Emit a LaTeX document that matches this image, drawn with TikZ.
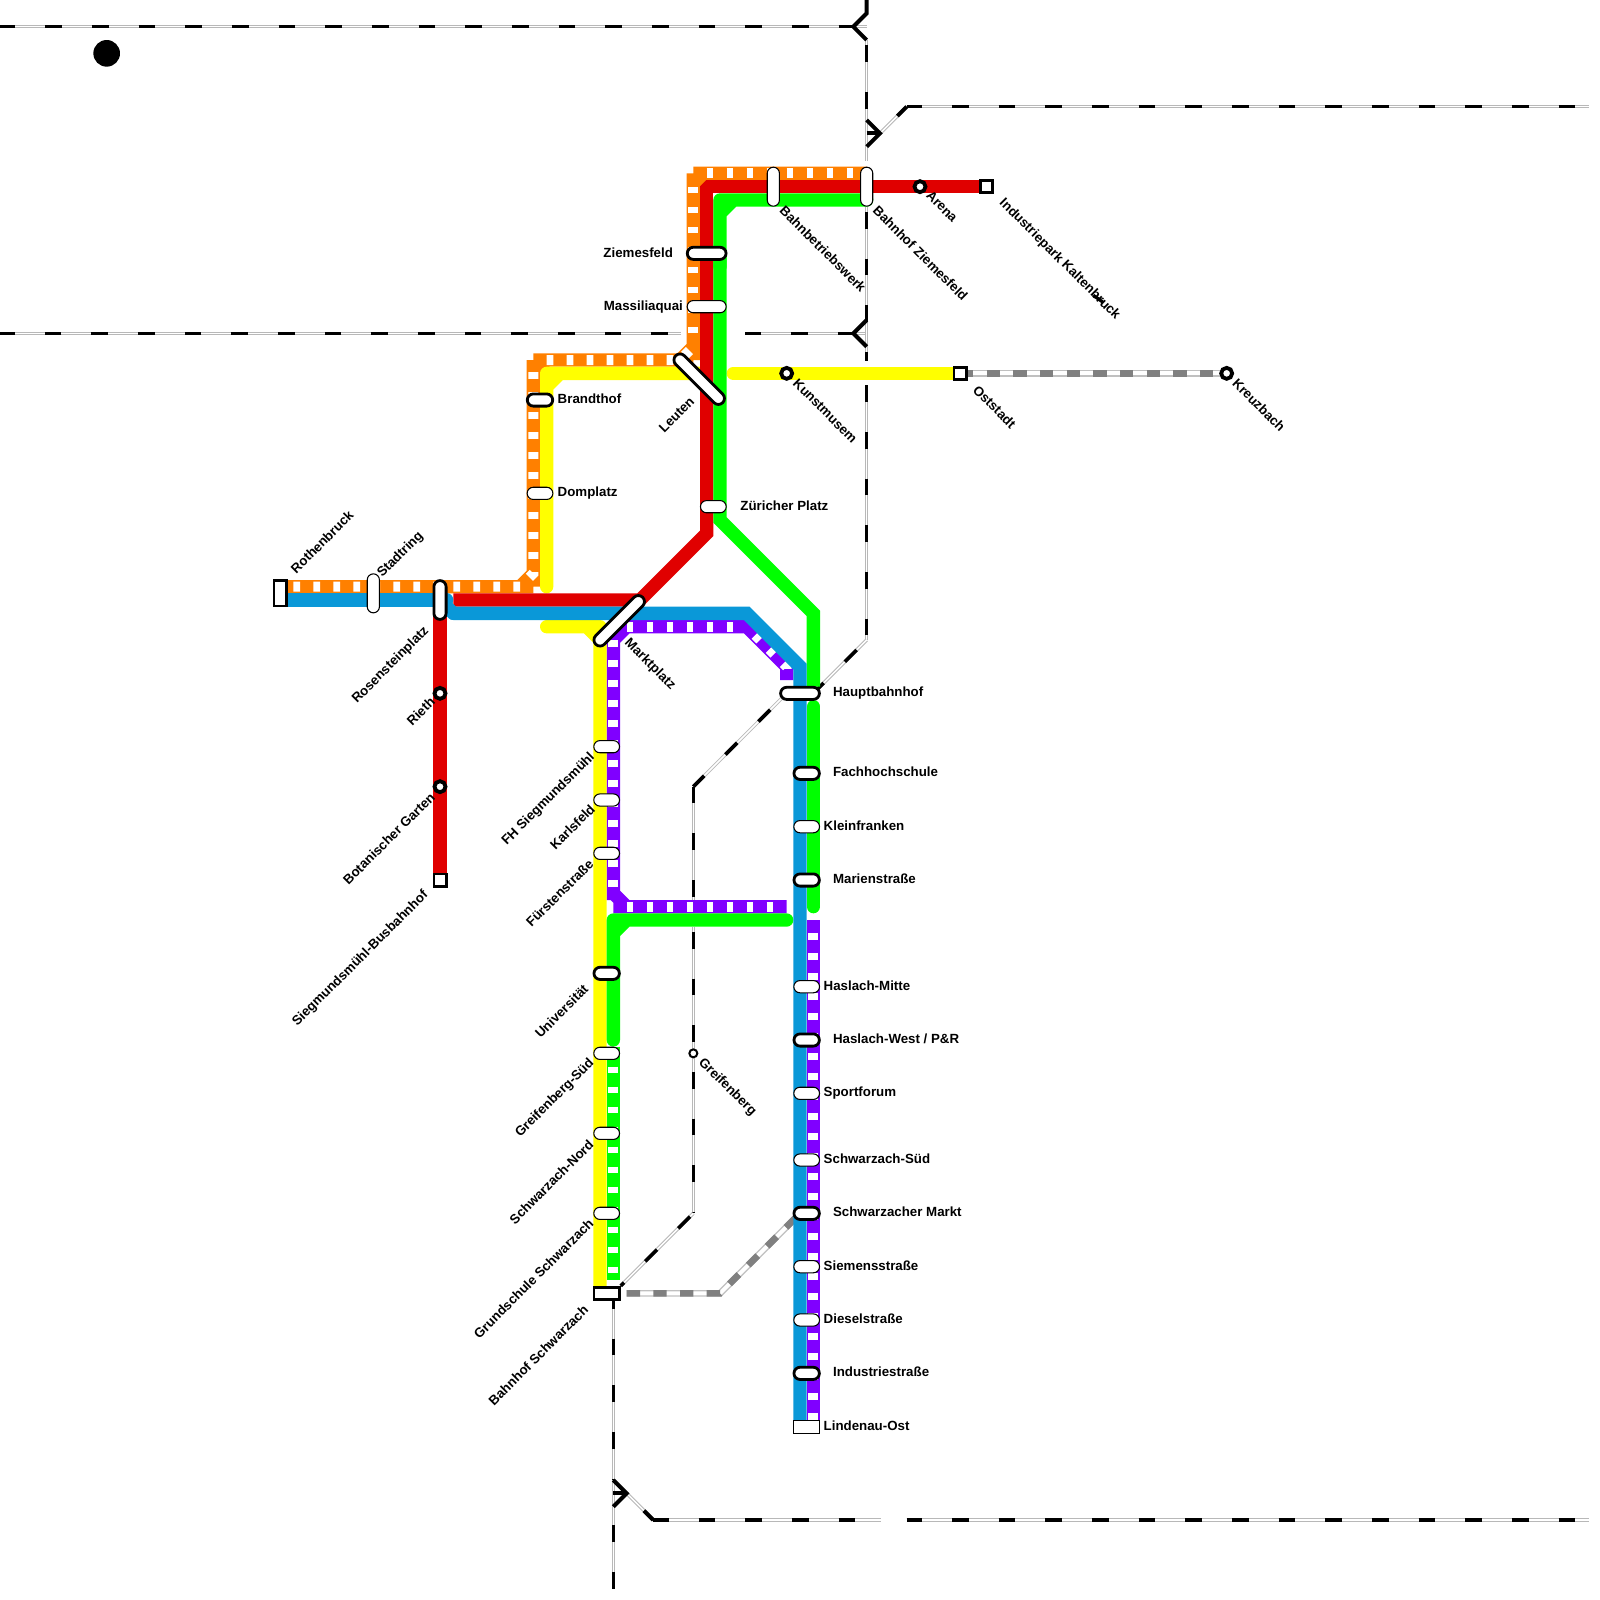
\documentclass[tikz,border=0pt]{standalone}
\usepackage{fontspec}
\setmainfont{Liberation Sans}
\usetikzlibrary{shapes.misc}
\definecolor{mOrange}{HTML}{FF8000}
\definecolor{mRed}{HTML}{E00000}
\definecolor{mGreen}{HTML}{00FF00}
\definecolor{mYellow}{HTML}{FFFF00}
\definecolor{mBlue}{HTML}{0A98D8}
\definecolor{mPurple}{HTML}{8000FF}
\definecolor{railEdge}{HTML}{B8B8B8}
\definecolor{grayEdge}{HTML}{C0C0C0}
\definecolor{grayBlock}{HTML}{808080}
\pgfdeclarelayer{lines}
\pgfsetlayers{lines,main}
\tikzset{
  metro/.style={line width=6.667pt,line cap=butt,line join=miter},
  metroR/.style={line width=6.667pt,line cap=round,line join=round},
  whiteblocks/.style={line width=5pt,white,line cap=butt,line join=miter,dash pattern=on 3.333pt off 6.667pt},
  railbase/.style={line width=1.75pt,railEdge,line join=miter},
  railcore/.style={line width=0.75pt,white,line join=miter},
  raildash/.style={line width=1.8pt,black,dash pattern=on 8.333pt off 15pt},
  railtick/.style={line width=2pt,black},
  graybase/.style={line width=3.333pt,grayEdge,line join=miter},
  graycore/.style={line width=2pt,white,line join=miter},
  graydash/.style={line width=3.333pt,grayBlock,line join=miter,dash pattern=on 6.667pt off 6.667pt},
  pill/.style={shape=rounded rectangle,rounded rectangle arc length=180,fill=white,draw=black,inner sep=0pt,minimum height=6.1pt},
  thickS/.style={pill,line width=1.4pt,minimum width=12.7pt},
  thickL/.style={pill,line width=1.4pt,minimum width=19.4pt},
  thickD/.style={pill,line width=1.4pt,minimum width=33.2pt},
  thinS/.style={pill,line width=0.53pt,minimum width=12.87pt},
  thinL/.style={pill,line width=0.53pt,minimum width=19.5pt},
  term/.style={shape=rectangle,fill=white,draw=black,line width=1.4pt,inner sep=0pt},
  termQ/.style={term,minimum width=6.1pt,minimum height=6.1pt},
  ring/.style={shape=circle,fill=white,draw=black,line width=1.9pt,inner sep=0pt,minimum size=5.5pt},
  ringS/.style={shape=circle,fill=white,draw=black,line width=1pt,inner sep=0pt,minimum size=4pt},
  lbl/.style={font=\fontsize{6.65pt}{8pt}\selectfont\bfseries,inner sep=0pt,text height=5pt,text depth=0.2pt},
  lE/.style={lbl,anchor=west},
  lW/.style={lbl,anchor=east},
  lUpS/.style={lbl,anchor=west,rotate=45},
  lUpE/.style={lbl,anchor=east,rotate=45},
  lDn/.style={lbl,anchor=west,rotate=-45},
}
\newcommand{\railrun}[2]{%
  \draw[railbase] #2;
  \draw[railcore] #2;
  \draw[raildash,dash phase=#1pt] #2;
}
\newcommand{\railplain}[1]{%
  \draw[railbase] #1;
  \draw[railcore] #1;
}
\newcommand{\grayrun}[1]{%
  \draw[graybase] #1;
  \draw[graycore] #1;
  \draw[graydash] #1;
}
\begin{document}
\begin{tikzpicture}[x=0.66667pt,y=-0.66667pt]
\useasboundingbox (0,0) rectangle (1200,1200);

% terminals
\node[term,minimum width=6.1pt,minimum height=12.7pt] (rothenbruck) at (210,445) {};
\node[termQ] (industriepark) at (740,140) {};
\node[termQ] (oststadt) at (720,280) {};
\node[termQ] (busbahnhof) at (330,660) {};
\node[term,minimum width=12.7pt,minimum height=6.1pt] (bfSchwarzach) at (455,970) {};
\node[term,line width=0.53pt,minimum width=13.1pt,minimum height=6.4pt] (lindenau) at (605,1070) {};
% rings
\node[ring] (arena) at (690,140) {};
\node[ring] (kunstmuseum) at (590,280) {};
\node[ring] (rieth) at (330,520) {};
\node[ring] (botanisch) at (330,590) {};
\node[ring] (kreuzbach) at (920,280) {};
\node[ringS] (greifenberg) at (520,790) {};
\node[shape=circle,fill=black,inner sep=0pt,minimum size=13.33pt] (dot) at (80,40) {};
% stations
\node[thickL] (ziemesfeld) at (530,190) {};
\node[thinL] (massiliaquai) at (530,230) {};
\node[thinL,rotate=90] (bahnbetrieb) at (580,140) {};
\node[thinL,rotate=90] (bfZiemesfeld) at (650,140) {};
\node[thickD,rotate=-45] (leuten) at (524.4,284.4) {};
\node[thickD,rotate=45] (marktplatz) at (464.4,465.6) {};
\node[thickS] (brandthof) at (405,300) {};
\node[thinS] (domplatz) at (405,370) {};
\node[thinS] (zuerich) at (535,380) {};
\node[thinL,rotate=90] (stadtring) at (280,445) {};
\node[thickL,rotate=90] (rosenstein) at (330,450) {};
\node[thickL] (hauptbahnhof) at (600,520) {};
\node[thickS] (fachhochschule) at (605,580) {};
\node[thinS] (kleinfranken) at (605,620) {};
\node[thickS] (marienstr) at (605,660) {};
\node[thinS] (haslachM) at (605,740) {};
\node[thickS] (haslachW) at (605,780) {};
\node[thinS] (sportforum) at (605,820) {};
\node[thinS] (schwarzachS) at (605,870) {};
\node[thickS] (schwarzachM) at (605,910) {};
\node[thinS] (siemens) at (605,950) {};
\node[thinS] (diesel) at (605,990) {};
\node[thickS] (industriestr) at (605,1030) {};
\node[thinS] (fh) at (455,560) {};
\node[thinS] (karlsfeld) at (455,600) {};
\node[thinS] (fuersten) at (455,640) {};
\node[thickS] (uni) at (455,730) {};
\node[thinS] (greifenbergS) at (455,790) {};
\node[thinS] (schwarzachN) at (455,850) {};
\node[thinS] (grundschule) at (455,910) {};
% junctions and free ends
\coordinate (w1) at (0,20);
\coordinate (j1) at (640,20);
\coordinate (w2) at (0,250);
\coordinate (j2) at (640,250);
\coordinate (j3) at (660,100);
\coordinate (e3) at (1191.5,80);
\coordinate (j4) at (470,1120);
\coordinate (e4) at (1191.5,1140);
\coordinate (k1) at (650,480);
\coordinate (k2) at (520,590);
\coordinate (k3) at (520,910);
\coordinate (k4) at (680,80);
\coordinate (k5) at (490,1140);
\coordinate (k6) at (610,520);
\coordinate (k7) at (600,910);

\begin{pgfonlayer}{lines}
% railways
\railrun{0.67}{(w1) -- (j1)}
\railplain{(j1) -- (650,20)}
\railrun{0.67}{(j2) -- (559,250)}
\railrun{16.67}{(511,250) -- (w2)}
\railplain{(j2) -- (650,250)}
\railplain{(j3) -- (k4)}
\railrun{0.67}{(k4) -- (e3)}
\railplain{(j4) -- (k5)}
\railrun{0.67}{(k5) -- (661,1140)}
\railrun{0.67}{(680,1140) -- (e4)}
\railrun{20.67}{(650,30) -- (650,90)}
\railplain{(650,90) -- (650,121)}
\railrun{20.67}{(650,155) -- (650,271)}
\railrun{0}{(650,289) -- (k1)}
\railrun{16.27}{(k1) -- (k6)}
\railrun{0.67}{(k2) -- (590,520)}
\railrun{0}{(k2) -- (520,680)}
\railrun{20.67}{(520,695) -- (k3)}
\railrun{21}{(k3) -- (bfSchwarzach.north east)}
\railrun{4}{(460,975) -- (460,1110)}
\railplain{(460,1110) -- (460,1130)}
\railrun{14}{(460,1130) -- (460,1191.5)}
% junction ticks
\draw[railtick] (650,0) -- (650,10) -- (j1) -- (650,30);
\draw[railtick] (650,240) -- (j2) -- (650,260);
\draw[railtick] (650,90) -- (j3) -- (650,110);
\draw[railtick] (650,100) -- (j3);
\draw[railtick] (673,87) -- (k4);
\draw[railtick] (460,1110) -- (j4) -- (460,1130);
\draw[railtick] (460,1120) -- (j4);
\draw[railtick] (483,1133) -- (k5);
\draw[railtick,line width=1.6pt] (820,221.5) -- (827,226.5);
% gray lines
\grayrun{(oststadt.center) -- (kreuzbach.center)}
\grayrun{(470,970) -- (540,970) -- (k7)}
% orange
\draw[metro,mOrange] (rothenbruck.center|-400,440) -- (400,440)
  (400,440) -- (400,270) (400,270) -- (520,270) (520,270) -- (520,130) (520,130) -- (bfZiemesfeld.center|-650,130)
  (390,440) -- (400,430) (400,280) -- (410,270) (510,270) -- (520,260) (520,140) -- (530,130);
\draw[whiteblocks] (220,440) -- (390,440) -- (400,430) -- (400,278);
\draw[whiteblocks] (410,270) -- (510,270) -- (520,260);
\draw[whiteblocks] (520,250) -- (520,140);
\draw[whiteblocks] (530,130) -- (650,130);
% purple
\draw[metro,mPurple] (460,675) -- (460,470) (460,470) -- (560,470) -- (590,500) -- (590,510)
  (460,480) -- (470,470) (460,670) -- (470,680) (460,680) -- (590,680);
\draw[whiteblocks] (470,470) -- (552,470);
\draw[whiteblocks] (566.4,476.4) -- (590,500) -- (590,505);
\draw[whiteblocks] (460,480) -- (460,665);
\draw[whiteblocks] (470,680) -- (580,680);
\draw[metro,mPurple] (610,690) -- (610,1065);
\draw[whiteblocks] (610,700) -- (610,1065);
% yellow
\draw[metroR,mYellow] (410,440) -- (410,280) -- (525,280) (410,290) -- (420,280);
\draw[metroR,mYellow] (410,470) -- (450,470) -- (450,965) (440,470) -- (450,480);
\draw[metroR,mYellow] (550,280) -- (oststadt.center);
% red
\draw[metro,mRed] (340,450) -- (480,450) -- (530,400) -- (530,150);
\draw[metro,mRed,line join=bevel] (530,170) -- (530,140) -- (industriepark.center);
\draw[metro,mRed] (rosenstein.center) -- (busbahnhof.center);
% green
\draw[metroR,mGreen] (bfZiemesfeld.center|-650,150) -- (540,150) -- (540,200) (540,160) -- (550,150);
\draw[metro,mGreen] (540,190) -- (540,390) -- (610,460) -- (610,515);
\draw[metroR,mGreen] (610,530) -- (610,680);
\draw[metroR,mGreen] (590,690) -- (460,690) -- (460,780) (470,690) -- (460,700);
\draw[metro,mGreen] (460,785) -- (460,960);
\draw[whiteblocks] (460,800) -- (460,960);
% blue
\draw[metro,mBlue] (rothenbruck.center|-400,450) -- (330,450);
\draw[metroR,mBlue] (330,450) -- (335,450);
\draw[metroR,mBlue] (330,450) -- (340,460);
\draw[metroR,mBlue] (340,460) -- (341,460);
\draw[metro,mBlue] (340,460) -- (560,460) -- (600,500) -- (lindenau.center-|600,1070);
\end{pgfonlayer}

% labels
\node[lW] (tZiemesfeld) at (505,189.2) {Ziemesfeld};
\node[lW] (tMassiliaquai) at (512.5,229) {Massiliaquai};
\node[lE] (tBrandthof) at (418,298.7) {Brandthof};
\node[lE] (tDomplatz) at (418,368.7) {Domplatz};
\node[lE] (tZuerich) at (555,379) {Züricher Platz};
\node[lE] (tHaupt) at (624.5,519) {Hauptbahnhof};
\node[lE] (tFach) at (624.5,579) {Fachhochschule};
\node[lE] (tKlein) at (617.5,619) {Kleinfranken};
\node[lE] (tMarien) at (624.5,659) {Marienstraße};
\node[lE] (tHaslachM) at (617.5,739) {Haslach-Mitte};
\node[lE] (tHaslachW) at (624.5,779) {Haslach-West / P\&R};
\node[lE] (tSport) at (617.5,819) {Sportforum};
\node[lE] (tSchwS) at (617.5,869) {Schwarzach-Süd};
\node[lE] (tSchwM) at (624.5,909) {Schwarzacher Markt};
\node[lE] (tSiemens) at (617.5,949) {Siemensstraße};
\node[lE] (tDiesel) at (617.5,989) {Dieselstraße};
\node[lE] (tIndustrie) at (624.5,1029) {Industriestraße};
\node[lE] (tLindenau) at (617.5,1069) {Lindenau-Ost};

\node[lUpS] (tRothen) at (219.5,428.5) {Rothenbruck};
\node[lUpS] (tStadt) at (284,431) {Stadtring};
\node[lUpE] (tRosen) at (319.5,471) {Rosensteinplatz};
\node[lUpE] (tRieth) at (324.5,524.5) {Rieth};
\node[lUpE] (tBotan) at (324.5,596) {Botanischer Garten};
\node[lUpE] (tBus) at (319,669) {Siegmundsmühl-Busbahnhof};
\node[lUpE] (tFH) at (444,565.5) {FH Siegmundsmühl};
\node[lUpE] (tKarls) at (444.5,605) {Karlsfeld};
\node[lUpE] (tFuer) at (443.5,646) {Fürstenstraße};
\node[lUpE] (tUni) at (439.5,740) {Universität};
\node[lUpE] (tGreifS) at (443.5,795) {Greifenberg-Süd};
\node[lUpE] (tSchwN) at (443.5,856.5) {Schwarzach-Nord};
\node[lUpE] (tGrund) at (443.5,915.5) {Grundschule Schwarzach};
\node[lUpE] (tBfSchw) at (439.5,980.5) {Bahnhof Schwarzach};
\node[lUpE] (tLeuten) at (519,299) {Leuten};

\node[lDn] (tBetrieb) at (586.5,156) {Bahnbetriebswerk};
\node[lDn] (tBfZiem) at (656.5,156) {Bahnhof Ziemesfeld};
\node[lDn] (tArena) at (696.5,144.5) {Arena};
\node[lDn] (tIndustriepark) at (751.5,150) {Industriepark Kaltenbruck};
\node[lDn] (tKunst) at (596.5,285.5) {Kunstmusem};
\node[lDn] (tOst) at (731.5,290.5) {Oststadt};
\node[lDn] (tKreuz) at (926,285.5) {Kreuzbach};
\node[lDn] (tMarkt) at (470.5,480) {Marktplatz};
\node[lDn] (tGreif) at (526,794.5) {Greifenberg};
\end{tikzpicture}
\end{document}
